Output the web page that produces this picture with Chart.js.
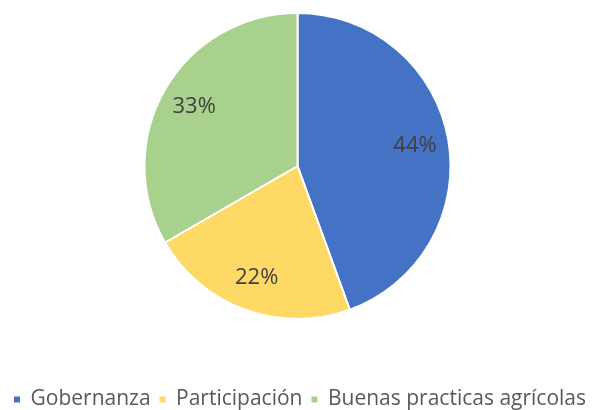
<!DOCTYPE html>
<html>
<head>
<meta charset="utf-8">
<script src="https://cdn.jsdelivr.net/npm/chart.js@4"></script>
<style>
  html, body { margin: 0; padding: 0; background: #ffffff; overflow: hidden; }
  #wrap { position: relative; width: 595px; height: 420px; }
</style>
</head>
<body>
<div id="wrap"><canvas id="c"></canvas></div>
<script>
const categories = ['Gobernanza', 'Participación', 'Buenas practicas agrícolas'];
const values = [4, 2, 3];
const colors = ['#4472C4', '#FFD966', '#A9D18E'];

const labelPlugin = {
  id: 'sliceLabels',
  afterDatasetsDraw(chart) {
    const ctx = chart.ctx;
    const meta = chart.getDatasetMeta(0);
    const data = chart.data.datasets[0].data;
    const total = data.reduce((a, b) => a + b, 0);
    ctx.save();
    ctx.font = '22px "Open Sans"';
    ctx.fillStyle = '#404040';
    ctx.textAlign = 'center';
    ctx.textBaseline = 'middle';
    meta.data.forEach((arc, i) => {
      const p = arc.getProps(['x', 'y', 'startAngle', 'endAngle', 'outerRadius'], true);
      const mid = (p.startAngle + p.endAngle) / 2;
      const r = p.outerRadius * 0.78;
      const tx = p.x + Math.cos(mid) * r;
      const ty = p.y + Math.sin(mid) * r;
      ctx.fillText(Math.round(data[i] / total * 100) + '%', tx, ty);
    });
    ctx.restore();
  }
};

new Chart(document.getElementById('c'), {
  type: 'pie',
  data: {
    labels: categories,
    datasets: [{
      data: values,
      backgroundColor: colors,
      borderColor: '#ffffff',
      borderWidth: 2,
      hoverOffset: 0,
      radius: 153
    }]
  },
  options: {
    responsive: true,
    maintainAspectRatio: false,
    animation: false,
    layout: { padding: { top: 13, bottom: 0, left: 0, right: 0 } },
    plugins: {
      tooltip: { enabled: false },
      legend: {
        position: 'bottom',
        align: 'end',
        title: { display: true, text: '', font: { size: 10, lineHeight: 1 }, padding: { top: 0, bottom: 51 } },
        labels: {
          boxWidth: 6,
          boxHeight: 6,
          padding: 9,
          color: '#595959',
          font: { family: '"Open Sans"', size: 21 },
          generateLabels(chart) {
            const items = Chart.overrides.pie.plugins.legend.labels.generateLabels(chart);
            items.forEach(it => { it.lineWidth = 0; it.strokeStyle = 'rgba(0,0,0,0)'; });
            return items;
          }
        }
      }
    }
  },
  plugins: [labelPlugin]
});
</script>
</body>
</html>
